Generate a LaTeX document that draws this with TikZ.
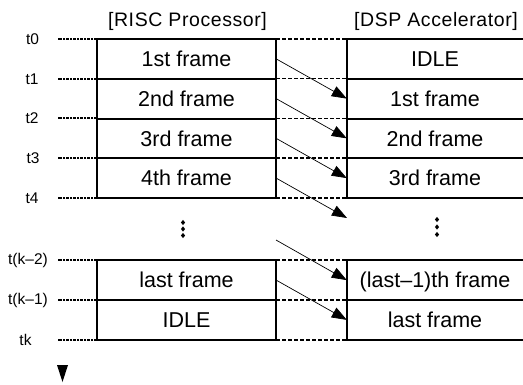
\documentclass[tikz,border=0pt]{standalone}
\usepackage{fontspec}
\setmainfont{Liberation Sans}
\usetikzlibrary{arrows.meta}
\begin{document}
\begin{tikzpicture}[x=1pt,y=-1pt,
 cell/.style={minimum width=179pt,minimum height=39.75pt,inner sep=0pt,font=\fontsize{21.5}{24}\selectfont,text height=15.5pt,text depth=0pt},
 rcell/.style={cell,minimum width=176pt},
 box/.style={line width=2pt},
 tick/.style={line width=2pt,dash pattern=on 2.5pt off 1pt},
 link/.style={line width=1.6pt,dash pattern=on 4pt off 2pt},
 flow/.style={line width=0.7pt,-{Triangle[length=15pt,width=11pt]}},
 tlabel/.style={font=\fontsize{15.5}{18}\selectfont,inner sep=0pt},
 head/.style={font=\fontsize{19.5}{22}\selectfont\addfontfeature{LetterSpace=3},anchor=base,inner sep=0pt}]
\useasboundingbox (0,0) rectangle (523,384);

% headers
\node[head] (hL) at (187.5,26.7) {[RISC Processor]};
\node[head] (hR) at (436,26.7) {[DSP Accelerator]};

% left column cells
\node[cell] (L1) at (186.5,58.875) {1st frame};
\node[cell] (L2) at (186.5,98.625) {2nd frame};
\node[cell] (L3) at (186.5,138.375) {3rd frame};
\node[cell] (L4) at (186.5,178.125) {4th frame};
\node[cell] (L5) at (186.5,280.125) {last frame};
\node[cell] (L6) at (186.5,319.875) {IDLE};

% right column cells
\node[rcell] (R1) at (435,58.875) {IDLE};
\node[rcell] (R2) at (435,98.625) {1st frame};
\node[rcell] (R3) at (435,138.375) {2nd frame};
\node[rcell] (R4) at (435,178.125) {3rd frame};
\node[rcell] (R5) at (435,280.125) {(last–1)th frame};
\node[rcell] (R6) at (435,319.875) {last frame};

% left borders
\draw[box] (L1.north west) rectangle (L4.south east);
\foreach \n in {L1,L2,L3} \draw[box] (\n.south west) -- (\n.south east);
\draw[box] (L5.north west) rectangle (L6.south east);
\draw[box] (L5.south west) -- (L5.south east);

% right borders
\draw[box] (R1.north east) -- (R1.north west) -- (R4.south west) -- (R4.south east);
\foreach \n in {R1,R2,R3} \draw[box] (\n.south west) -- (\n.south east);
\draw[box] (R5.north east) -- (R5.north west) -- (R6.south west) -- (R6.south east);
\draw[box] (R5.south west) -- (R5.south east);

% links between columns
\foreach \a/\b in {L1/R1,L2/R2,L3/R3,L4/R4,L5/R5,L6/R6}
  \draw[link] (\a.north east) -- (\b.north west);
\draw[link] (L4.south east) -- (R4.south west);
\draw[link] (L6.south east) -- (R6.south west);

% time labels and ticks
\node[tlabel] (t0) at (32.5,39) {t0};
\node[tlabel] (t1) at (32,78.75) {t1};
\node[tlabel] (t2) at (32,118.5) {t2};
\node[tlabel] (t3) at (33,158.25) {t3};
\node[tlabel] (t4) at (32,198) {t4};
\node[tlabel] (tk2) at (28,260.25) {t(k–2)};
\node[tlabel] (tk1) at (28,300) {t(k–1)};
\node[tlabel] (tk) at (25.5,339.75) {tk};
\draw[tick] (L1.north west) -- ++(-39,0);
\draw[tick] (L2.north west) -- ++(-39,0);
\draw[tick] (L3.north west) -- ++(-39,0);
\draw[tick] (L4.north west) -- ++(-39,0);
\draw[tick] (L4.south west) -- ++(-39,0);
\draw[tick] (L5.north west) -- ++(-39,0);
\draw[tick] (L6.north west) -- ++(-39,0);
\draw[tick] (L6.south west) -- ++(-39,0);

% data-flow arrows
\coordinate (gR) at (347,218);
\coordinate (gL) at (276,240);
\draw[flow] (L1.east) -- (R2.west);
\draw[flow] (L2.east) -- (R3.west);
\draw[flow] (L3.east) -- (R4.west);
\draw[flow] (L4.east) -- (gR);
\draw[flow] (gL) -- (R5.west);
\draw[flow] (L5.east) -- (R6.west);

% vertical ellipses
\foreach \y in {222.5,229,235.5}
  \fill (183,\y) +(0,-2.6) -- +(2.1,0) -- +(0,2.6) -- +(-2.1,0) -- cycle;
\foreach \y in {219.5,227,234.5}
  \fill (437,\y) +(0,-2.6) -- +(2.1,0) -- +(0,2.6) -- +(-2.1,0) -- cycle;

% time direction arrow
\fill (57,365) -- (68,365) -- (62.5,382) -- cycle;
\end{tikzpicture}
\end{document}
